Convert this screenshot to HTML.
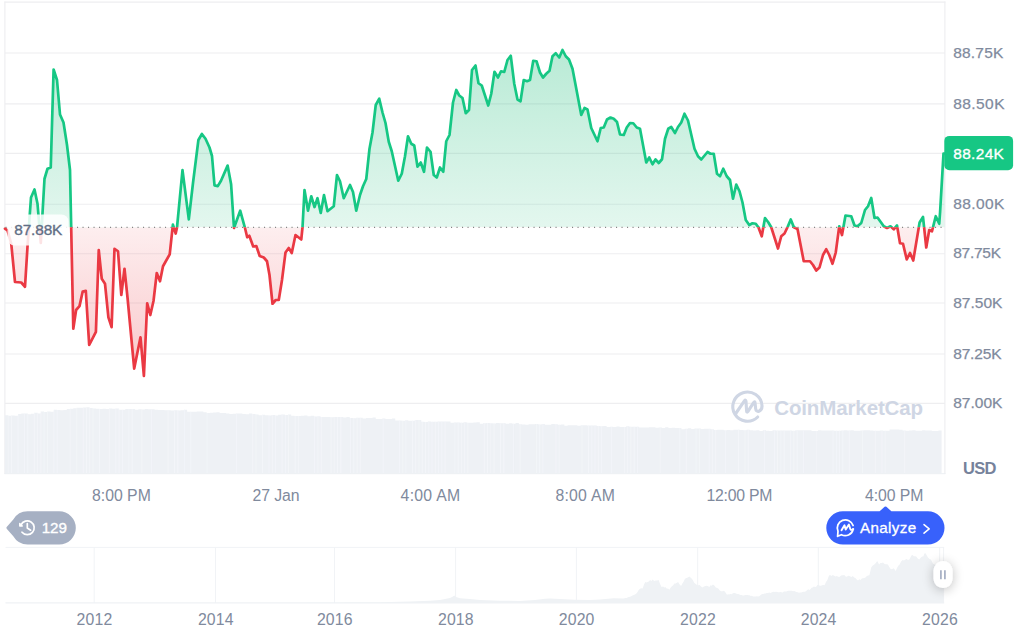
<!DOCTYPE html>
<html><head><meta charset="utf-8"><title>Chart</title>
<style>
html,body{margin:0;padding:0;background:#fff;}
body{width:1024px;height:642px;overflow:hidden;font-family:"Liberation Sans",sans-serif;}
svg{display:block;}
text{font-family:"Liberation Sans",sans-serif;}
</style></head><body>
<svg width="1024" height="642" viewBox="0 0 1024 642">
<defs>
<linearGradient id="gg" gradientUnits="userSpaceOnUse" x1="0" y1="0" x2="0" y2="227.3">
<stop offset="0" stop-color="#22be7c" stop-opacity="0.37"/><stop offset="1" stop-color="#22be7c" stop-opacity="0.125"/></linearGradient>
<linearGradient id="rg" gradientUnits="userSpaceOnUse" x1="0" y1="227.3" x2="0" y2="474">
<stop offset="0" stop-color="#ea3943" stop-opacity="0.085"/><stop offset="1" stop-color="#ea3943" stop-opacity="0.41"/></linearGradient>
<clipPath id="up"><rect x="0" y="0" width="1024" height="227.3"/></clipPath>
<clipPath id="dn"><rect x="0" y="227.3" width="1024" height="300"/></clipPath>
<filter id="sh" x="-100%" y="-50%" width="300%" height="200%"><feGaussianBlur in="SourceAlpha" stdDeviation="6"/><feOffset dy="2"/><feComponentTransfer><feFuncA type="linear" slope="0.26"/></feComponentTransfer><feMerge><feMergeNode/><feMergeNode in="SourceGraphic"/></feMerge></filter>
</defs>
<rect width="1024" height="642" fill="#fff"/>
<!-- grid -->
<g stroke="#eeeef0" stroke-width="1.15" fill="none"><line x1="5" x2="945" y1="53" y2="53"/><line x1="5" x2="945" y1="103.8" y2="103.8"/><line x1="5" x2="945" y1="153.3" y2="153.3"/><line x1="5" x2="945" y1="204.2" y2="204.2"/><line x1="5" x2="945" y1="253.7" y2="253.7"/><line x1="5" x2="945" y1="303.0" y2="303.0"/><line x1="5" x2="945" y1="354.0" y2="354.0"/><line x1="5" x2="945" y1="403.3" y2="403.3"/>
<line x1="4.4" x2="945.4" y1="2.1" y2="2.1"/>
<line x1="4.9" x2="4.9" y1="1.5" y2="474"/>
<line x1="944.9" x2="944.9" y1="1.5" y2="474"/>
</g>
<!-- volume -->
<path d="M5,473.6 L5.00,415.36 L8.25,415.36 L8.25,415.64 L11.50,415.64 L11.50,415.48 L14.76,415.48 L14.76,415.69 L18.01,415.69 L18.01,414.11 L21.26,414.11 L21.26,413.61 L24.51,413.61 L24.51,413.56 L27.76,413.56 L27.76,414.30 L31.02,414.30 L31.02,413.78 L34.27,413.78 L34.27,412.76 L37.52,412.76 L37.52,413.45 L40.77,413.45 L40.77,411.57 L44.02,411.57 L44.02,411.90 L47.28,411.90 L47.28,411.58 L50.53,411.58 L50.53,411.73 L53.78,411.73 L53.78,409.69 L57.03,409.69 L57.03,410.12 L60.29,410.12 L60.29,410.33 L63.54,410.33 L63.54,410.02 L66.79,410.02 L66.79,408.92 L70.04,408.92 L70.04,408.85 L73.29,408.85 L73.29,408.31 L76.55,408.31 L76.55,407.83 L79.80,407.83 L79.80,407.68 L83.05,407.68 L83.05,407.42 L86.30,407.42 L86.30,407.18 L89.55,407.18 L89.55,407.93 L92.81,407.93 L92.81,408.58 L96.06,408.58 L96.06,408.80 L99.31,408.80 L99.31,408.94 L102.56,408.94 L102.56,408.79 L105.81,408.79 L105.81,408.98 L109.07,408.98 L109.07,408.51 L112.32,408.51 L112.32,408.87 L115.57,408.87 L115.57,408.55 L118.82,408.55 L118.82,409.69 L122.07,409.69 L122.07,409.64 L125.33,409.64 L125.33,408.94 L128.58,408.94 L128.58,408.97 L131.83,408.97 L131.83,409.05 L135.08,409.05 L135.08,409.72 L138.34,409.72 L138.34,409.24 L141.59,409.24 L141.59,409.41 L144.84,409.41 L144.84,409.12 L148.09,409.12 L148.09,409.31 L151.34,409.31 L151.34,409.20 L154.60,409.20 L154.60,409.87 L157.85,409.87 L157.85,410.08 L161.10,410.08 L161.10,410.08 L164.35,410.08 L164.35,410.36 L167.60,410.36 L167.60,410.16 L170.86,410.16 L170.86,410.39 L174.11,410.39 L174.11,410.32 L177.36,410.32 L177.36,410.44 L180.61,410.44 L180.61,410.15 L183.86,410.15 L183.86,409.70 L187.12,409.70 L187.12,411.72 L190.37,411.72 L190.37,411.82 L193.62,411.82 L193.62,411.76 L196.87,411.76 L196.87,411.46 L200.12,411.46 L200.12,411.59 L203.38,411.59 L203.38,412.34 L206.63,412.34 L206.63,412.90 L209.88,412.90 L209.88,412.67 L213.13,412.67 L213.13,412.41 L216.39,412.41 L216.39,412.21 L219.64,412.21 L219.64,412.92 L222.89,412.92 L222.89,413.04 L226.14,413.04 L226.14,413.43 L229.39,413.43 L229.39,414.07 L232.65,414.07 L232.65,413.72 L235.90,413.72 L235.90,413.49 L239.15,413.49 L239.15,413.61 L242.40,413.61 L242.40,414.04 L245.65,414.04 L245.65,414.14 L248.91,414.14 L248.91,413.39 L252.16,413.39 L252.16,413.90 L255.41,413.90 L255.41,414.59 L258.66,414.59 L258.66,415.20 L261.91,415.20 L261.91,414.85 L265.17,414.85 L265.17,415.34 L268.42,415.34 L268.42,415.43 L271.67,415.43 L271.67,415.00 L274.92,415.00 L274.92,415.45 L278.18,415.45 L278.18,414.83 L281.43,414.83 L281.43,414.62 L284.68,414.62 L284.68,415.09 L287.93,415.09 L287.93,414.58 L291.18,414.58 L291.18,415.73 L294.44,415.73 L294.44,415.92 L297.69,415.92 L297.69,416.10 L300.94,416.10 L300.94,415.69 L304.19,415.69 L304.19,415.59 L307.44,415.59 L307.44,416.33 L310.70,416.33 L310.70,415.83 L313.95,415.83 L313.95,416.41 L317.20,416.41 L317.20,416.36 L320.45,416.36 L320.45,416.89 L323.70,416.89 L323.70,416.96 L326.96,416.96 L326.96,417.02 L330.21,417.02 L330.21,417.13 L333.46,417.13 L333.46,417.09 L336.71,417.09 L336.71,417.05 L339.96,417.05 L339.96,417.11 L343.22,417.11 L343.22,417.40 L346.47,417.40 L346.47,417.01 L349.72,417.01 L349.72,417.94 L352.97,417.94 L352.97,418.20 L356.23,418.20 L356.22,417.76 L359.48,417.76 L359.48,417.82 L362.73,417.82 L362.73,418.43 L365.98,418.43 L365.98,418.02 L369.23,418.02 L369.23,418.04 L372.49,418.04 L372.49,417.56 L375.74,417.56 L375.74,418.92 L378.99,418.92 L378.99,419.07 L382.24,419.07 L382.24,418.57 L385.49,418.57 L385.49,419.10 L388.75,419.10 L388.75,419.12 L392.00,419.12 L392.00,418.60 L395.25,418.60 L395.25,420.61 L398.50,420.61 L398.50,420.47 L401.75,420.47 L401.75,420.66 L405.01,420.66 L405.01,420.37 L408.26,420.37 L408.26,420.69 L411.51,420.69 L411.51,420.71 L414.76,420.71 L414.76,420.07 L418.01,420.07 L418.01,420.10 L421.27,420.10 L421.27,421.86 L424.52,421.86 L424.52,422.12 L427.77,422.12 L427.77,421.48 L431.02,421.48 L431.02,421.66 L434.28,421.66 L434.27,421.78 L437.53,421.78 L437.53,421.54 L440.78,421.54 L440.78,421.58 L444.03,421.58 L444.03,421.53 L447.28,421.53 L447.28,421.58 L450.54,421.58 L450.54,422.69 L453.79,422.69 L453.79,422.42 L457.04,422.42 L457.04,422.49 L460.29,422.49 L460.29,422.85 L463.54,422.85 L463.54,422.17 L466.80,422.17 L466.80,422.66 L470.05,422.66 L470.05,422.81 L473.30,422.81 L473.30,422.43 L476.55,422.43 L476.55,422.35 L479.80,422.35 L479.80,423.67 L483.06,423.67 L483.06,423.16 L486.31,423.16 L486.31,423.12 L489.56,423.12 L489.56,423.34 L492.81,423.34 L492.81,423.58 L496.06,423.58 L496.06,423.04 L499.32,423.04 L499.32,423.24 L502.57,423.24 L502.57,423.25 L505.82,423.25 L505.82,423.70 L509.07,423.70 L509.07,423.34 L512.32,423.34 L512.33,423.72 L515.58,423.72 L515.58,423.10 L518.83,423.10 L518.83,424.25 L522.08,424.25 L522.08,424.54 L525.33,424.54 L525.33,424.75 L528.59,424.75 L528.59,424.36 L531.84,424.36 L531.84,424.15 L535.09,424.15 L535.09,424.06 L538.34,424.06 L538.34,424.43 L541.59,424.43 L541.59,424.12 L544.85,424.12 L544.85,424.68 L548.10,424.68 L548.10,424.70 L551.35,424.70 L551.35,424.12 L554.60,424.12 L554.60,424.20 L557.85,424.20 L557.85,424.68 L561.11,424.68 L561.11,424.53 L564.36,424.53 L564.36,425.78 L567.61,425.78 L567.61,425.36 L570.86,425.36 L570.86,425.17 L574.11,425.17 L574.11,425.31 L577.37,425.31 L577.37,425.76 L580.62,425.76 L580.62,425.29 L583.87,425.29 L583.87,425.36 L587.12,425.36 L587.12,425.43 L590.38,425.43 L590.38,425.43 L593.63,425.43 L593.63,425.42 L596.88,425.42 L596.88,425.88 L600.13,425.88 L600.13,426.19 L603.38,426.19 L603.38,426.05 L606.64,426.05 L606.64,426.90 L609.89,426.90 L609.89,426.84 L613.14,426.84 L613.14,426.94 L616.39,426.94 L616.39,426.44 L619.64,426.44 L619.64,426.91 L622.90,426.91 L622.90,426.88 L626.15,426.88 L626.15,426.25 L629.40,426.25 L629.40,426.72 L632.65,426.72 L632.65,426.80 L635.90,426.80 L635.90,426.65 L639.16,426.65 L639.16,427.62 L642.41,427.62 L642.41,427.41 L645.66,427.41 L645.66,427.46 L648.91,427.46 L648.91,427.35 L652.16,427.35 L652.16,427.21 L655.42,427.21 L655.42,427.68 L658.67,427.68 L658.67,427.41 L661.92,427.41 L661.92,427.88 L665.17,427.88 L665.17,427.19 L668.42,427.19 L668.42,427.96 L671.68,427.96 L671.68,427.77 L674.93,427.77 L674.93,427.98 L678.18,427.98 L678.18,427.96 L681.43,427.96 L681.43,429.16 L684.69,429.16 L684.69,428.87 L687.94,428.87 L687.94,428.36 L691.19,428.36 L691.19,429.02 L694.44,429.02 L694.44,428.50 L697.69,428.50 L697.69,428.62 L700.95,428.62 L700.95,428.95 L704.20,428.95 L704.20,428.82 L707.45,428.82 L707.45,428.72 L710.70,428.72 L710.70,429.20 L713.95,429.20 L713.95,430.10 L717.21,430.10 L717.21,429.86 L720.46,429.86 L720.46,429.78 L723.71,429.78 L723.71,430.33 L726.96,430.33 L726.96,429.98 L730.21,429.98 L730.21,430.25 L733.47,430.25 L733.47,429.87 L736.72,429.87 L736.72,429.73 L739.97,429.73 L739.97,430.03 L743.22,430.03 L743.22,430.29 L746.47,430.29 L746.48,429.70 L749.73,429.70 L749.73,430.26 L752.98,430.26 L752.98,430.38 L756.23,430.38 L756.23,430.28 L759.48,430.28 L759.48,430.89 L762.74,430.89 L762.74,430.16 L765.99,430.16 L765.99,430.72 L769.24,430.72 L769.24,430.93 L772.49,430.93 L772.49,430.19 L775.74,430.19 L775.74,430.39 L779.00,430.39 L779.00,430.39 L782.25,430.39 L782.25,430.62 L785.50,430.62 L785.50,430.53 L788.75,430.53 L788.75,430.58 L792.00,430.58 L792.00,430.85 L795.26,430.85 L795.26,430.15 L798.51,430.15 L798.51,430.20 L801.76,430.20 L801.76,430.26 L805.01,430.26 L805.01,430.26 L808.26,430.26 L808.26,430.21 L811.52,430.21 L811.52,431.03 L814.77,431.03 L814.77,430.92 L818.02,430.92 L818.02,430.23 L821.27,430.23 L821.27,430.60 L824.52,430.60 L824.52,430.43 L827.78,430.43 L827.78,430.43 L831.03,430.43 L831.03,430.47 L834.28,430.47 L834.28,430.73 L837.53,430.73 L837.53,430.68 L840.79,430.68 L840.79,430.47 L844.04,430.47 L844.04,430.32 L847.29,430.32 L847.29,430.45 L850.54,430.45 L850.54,430.26 L853.79,430.26 L853.79,430.65 L857.05,430.65 L857.05,430.79 L860.30,430.79 L860.30,430.49 L863.55,430.49 L863.55,430.22 L866.80,430.22 L866.80,430.31 L870.05,430.31 L870.05,430.49 L873.31,430.49 L873.31,430.69 L876.56,430.69 L876.56,430.85 L879.81,430.85 L879.81,430.49 L883.06,430.49 L883.06,430.87 L886.31,430.87 L886.31,430.71 L889.57,430.71 L889.57,429.44 L892.82,429.44 L892.82,429.39 L896.07,429.39 L896.07,429.50 L899.32,429.50 L899.32,429.68 L902.57,429.68 L902.57,430.53 L905.83,430.53 L905.83,430.77 L909.08,430.77 L909.08,430.56 L912.33,430.56 L912.33,430.37 L915.58,430.37 L915.58,430.63 L918.84,430.63 L918.84,430.78 L922.09,430.78 L922.09,430.21 L925.34,430.21 L925.34,430.53 L928.59,430.53 L928.59,430.53 L931.84,430.53 L931.84,430.94 L935.10,430.94 L935.10,430.99 L938.35,430.99 L938.35,430.49 L941.60,430.49 L941.6,473.6 Z" fill="#eef1f5"/>
<clipPath id="vc"><path d="M5,473.6 L5.00,415.36 L8.25,415.36 L8.25,415.64 L11.50,415.64 L11.50,415.48 L14.76,415.48 L14.76,415.69 L18.01,415.69 L18.01,414.11 L21.26,414.11 L21.26,413.61 L24.51,413.61 L24.51,413.56 L27.76,413.56 L27.76,414.30 L31.02,414.30 L31.02,413.78 L34.27,413.78 L34.27,412.76 L37.52,412.76 L37.52,413.45 L40.77,413.45 L40.77,411.57 L44.02,411.57 L44.02,411.90 L47.28,411.90 L47.28,411.58 L50.53,411.58 L50.53,411.73 L53.78,411.73 L53.78,409.69 L57.03,409.69 L57.03,410.12 L60.29,410.12 L60.29,410.33 L63.54,410.33 L63.54,410.02 L66.79,410.02 L66.79,408.92 L70.04,408.92 L70.04,408.85 L73.29,408.85 L73.29,408.31 L76.55,408.31 L76.55,407.83 L79.80,407.83 L79.80,407.68 L83.05,407.68 L83.05,407.42 L86.30,407.42 L86.30,407.18 L89.55,407.18 L89.55,407.93 L92.81,407.93 L92.81,408.58 L96.06,408.58 L96.06,408.80 L99.31,408.80 L99.31,408.94 L102.56,408.94 L102.56,408.79 L105.81,408.79 L105.81,408.98 L109.07,408.98 L109.07,408.51 L112.32,408.51 L112.32,408.87 L115.57,408.87 L115.57,408.55 L118.82,408.55 L118.82,409.69 L122.07,409.69 L122.07,409.64 L125.33,409.64 L125.33,408.94 L128.58,408.94 L128.58,408.97 L131.83,408.97 L131.83,409.05 L135.08,409.05 L135.08,409.72 L138.34,409.72 L138.34,409.24 L141.59,409.24 L141.59,409.41 L144.84,409.41 L144.84,409.12 L148.09,409.12 L148.09,409.31 L151.34,409.31 L151.34,409.20 L154.60,409.20 L154.60,409.87 L157.85,409.87 L157.85,410.08 L161.10,410.08 L161.10,410.08 L164.35,410.08 L164.35,410.36 L167.60,410.36 L167.60,410.16 L170.86,410.16 L170.86,410.39 L174.11,410.39 L174.11,410.32 L177.36,410.32 L177.36,410.44 L180.61,410.44 L180.61,410.15 L183.86,410.15 L183.86,409.70 L187.12,409.70 L187.12,411.72 L190.37,411.72 L190.37,411.82 L193.62,411.82 L193.62,411.76 L196.87,411.76 L196.87,411.46 L200.12,411.46 L200.12,411.59 L203.38,411.59 L203.38,412.34 L206.63,412.34 L206.63,412.90 L209.88,412.90 L209.88,412.67 L213.13,412.67 L213.13,412.41 L216.39,412.41 L216.39,412.21 L219.64,412.21 L219.64,412.92 L222.89,412.92 L222.89,413.04 L226.14,413.04 L226.14,413.43 L229.39,413.43 L229.39,414.07 L232.65,414.07 L232.65,413.72 L235.90,413.72 L235.90,413.49 L239.15,413.49 L239.15,413.61 L242.40,413.61 L242.40,414.04 L245.65,414.04 L245.65,414.14 L248.91,414.14 L248.91,413.39 L252.16,413.39 L252.16,413.90 L255.41,413.90 L255.41,414.59 L258.66,414.59 L258.66,415.20 L261.91,415.20 L261.91,414.85 L265.17,414.85 L265.17,415.34 L268.42,415.34 L268.42,415.43 L271.67,415.43 L271.67,415.00 L274.92,415.00 L274.92,415.45 L278.18,415.45 L278.18,414.83 L281.43,414.83 L281.43,414.62 L284.68,414.62 L284.68,415.09 L287.93,415.09 L287.93,414.58 L291.18,414.58 L291.18,415.73 L294.44,415.73 L294.44,415.92 L297.69,415.92 L297.69,416.10 L300.94,416.10 L300.94,415.69 L304.19,415.69 L304.19,415.59 L307.44,415.59 L307.44,416.33 L310.70,416.33 L310.70,415.83 L313.95,415.83 L313.95,416.41 L317.20,416.41 L317.20,416.36 L320.45,416.36 L320.45,416.89 L323.70,416.89 L323.70,416.96 L326.96,416.96 L326.96,417.02 L330.21,417.02 L330.21,417.13 L333.46,417.13 L333.46,417.09 L336.71,417.09 L336.71,417.05 L339.96,417.05 L339.96,417.11 L343.22,417.11 L343.22,417.40 L346.47,417.40 L346.47,417.01 L349.72,417.01 L349.72,417.94 L352.97,417.94 L352.97,418.20 L356.23,418.20 L356.22,417.76 L359.48,417.76 L359.48,417.82 L362.73,417.82 L362.73,418.43 L365.98,418.43 L365.98,418.02 L369.23,418.02 L369.23,418.04 L372.49,418.04 L372.49,417.56 L375.74,417.56 L375.74,418.92 L378.99,418.92 L378.99,419.07 L382.24,419.07 L382.24,418.57 L385.49,418.57 L385.49,419.10 L388.75,419.10 L388.75,419.12 L392.00,419.12 L392.00,418.60 L395.25,418.60 L395.25,420.61 L398.50,420.61 L398.50,420.47 L401.75,420.47 L401.75,420.66 L405.01,420.66 L405.01,420.37 L408.26,420.37 L408.26,420.69 L411.51,420.69 L411.51,420.71 L414.76,420.71 L414.76,420.07 L418.01,420.07 L418.01,420.10 L421.27,420.10 L421.27,421.86 L424.52,421.86 L424.52,422.12 L427.77,422.12 L427.77,421.48 L431.02,421.48 L431.02,421.66 L434.28,421.66 L434.27,421.78 L437.53,421.78 L437.53,421.54 L440.78,421.54 L440.78,421.58 L444.03,421.58 L444.03,421.53 L447.28,421.53 L447.28,421.58 L450.54,421.58 L450.54,422.69 L453.79,422.69 L453.79,422.42 L457.04,422.42 L457.04,422.49 L460.29,422.49 L460.29,422.85 L463.54,422.85 L463.54,422.17 L466.80,422.17 L466.80,422.66 L470.05,422.66 L470.05,422.81 L473.30,422.81 L473.30,422.43 L476.55,422.43 L476.55,422.35 L479.80,422.35 L479.80,423.67 L483.06,423.67 L483.06,423.16 L486.31,423.16 L486.31,423.12 L489.56,423.12 L489.56,423.34 L492.81,423.34 L492.81,423.58 L496.06,423.58 L496.06,423.04 L499.32,423.04 L499.32,423.24 L502.57,423.24 L502.57,423.25 L505.82,423.25 L505.82,423.70 L509.07,423.70 L509.07,423.34 L512.32,423.34 L512.33,423.72 L515.58,423.72 L515.58,423.10 L518.83,423.10 L518.83,424.25 L522.08,424.25 L522.08,424.54 L525.33,424.54 L525.33,424.75 L528.59,424.75 L528.59,424.36 L531.84,424.36 L531.84,424.15 L535.09,424.15 L535.09,424.06 L538.34,424.06 L538.34,424.43 L541.59,424.43 L541.59,424.12 L544.85,424.12 L544.85,424.68 L548.10,424.68 L548.10,424.70 L551.35,424.70 L551.35,424.12 L554.60,424.12 L554.60,424.20 L557.85,424.20 L557.85,424.68 L561.11,424.68 L561.11,424.53 L564.36,424.53 L564.36,425.78 L567.61,425.78 L567.61,425.36 L570.86,425.36 L570.86,425.17 L574.11,425.17 L574.11,425.31 L577.37,425.31 L577.37,425.76 L580.62,425.76 L580.62,425.29 L583.87,425.29 L583.87,425.36 L587.12,425.36 L587.12,425.43 L590.38,425.43 L590.38,425.43 L593.63,425.43 L593.63,425.42 L596.88,425.42 L596.88,425.88 L600.13,425.88 L600.13,426.19 L603.38,426.19 L603.38,426.05 L606.64,426.05 L606.64,426.90 L609.89,426.90 L609.89,426.84 L613.14,426.84 L613.14,426.94 L616.39,426.94 L616.39,426.44 L619.64,426.44 L619.64,426.91 L622.90,426.91 L622.90,426.88 L626.15,426.88 L626.15,426.25 L629.40,426.25 L629.40,426.72 L632.65,426.72 L632.65,426.80 L635.90,426.80 L635.90,426.65 L639.16,426.65 L639.16,427.62 L642.41,427.62 L642.41,427.41 L645.66,427.41 L645.66,427.46 L648.91,427.46 L648.91,427.35 L652.16,427.35 L652.16,427.21 L655.42,427.21 L655.42,427.68 L658.67,427.68 L658.67,427.41 L661.92,427.41 L661.92,427.88 L665.17,427.88 L665.17,427.19 L668.42,427.19 L668.42,427.96 L671.68,427.96 L671.68,427.77 L674.93,427.77 L674.93,427.98 L678.18,427.98 L678.18,427.96 L681.43,427.96 L681.43,429.16 L684.69,429.16 L684.69,428.87 L687.94,428.87 L687.94,428.36 L691.19,428.36 L691.19,429.02 L694.44,429.02 L694.44,428.50 L697.69,428.50 L697.69,428.62 L700.95,428.62 L700.95,428.95 L704.20,428.95 L704.20,428.82 L707.45,428.82 L707.45,428.72 L710.70,428.72 L710.70,429.20 L713.95,429.20 L713.95,430.10 L717.21,430.10 L717.21,429.86 L720.46,429.86 L720.46,429.78 L723.71,429.78 L723.71,430.33 L726.96,430.33 L726.96,429.98 L730.21,429.98 L730.21,430.25 L733.47,430.25 L733.47,429.87 L736.72,429.87 L736.72,429.73 L739.97,429.73 L739.97,430.03 L743.22,430.03 L743.22,430.29 L746.47,430.29 L746.48,429.70 L749.73,429.70 L749.73,430.26 L752.98,430.26 L752.98,430.38 L756.23,430.38 L756.23,430.28 L759.48,430.28 L759.48,430.89 L762.74,430.89 L762.74,430.16 L765.99,430.16 L765.99,430.72 L769.24,430.72 L769.24,430.93 L772.49,430.93 L772.49,430.19 L775.74,430.19 L775.74,430.39 L779.00,430.39 L779.00,430.39 L782.25,430.39 L782.25,430.62 L785.50,430.62 L785.50,430.53 L788.75,430.53 L788.75,430.58 L792.00,430.58 L792.00,430.85 L795.26,430.85 L795.26,430.15 L798.51,430.15 L798.51,430.20 L801.76,430.20 L801.76,430.26 L805.01,430.26 L805.01,430.26 L808.26,430.26 L808.26,430.21 L811.52,430.21 L811.52,431.03 L814.77,431.03 L814.77,430.92 L818.02,430.92 L818.02,430.23 L821.27,430.23 L821.27,430.60 L824.52,430.60 L824.52,430.43 L827.78,430.43 L827.78,430.43 L831.03,430.43 L831.03,430.47 L834.28,430.47 L834.28,430.73 L837.53,430.73 L837.53,430.68 L840.79,430.68 L840.79,430.47 L844.04,430.47 L844.04,430.32 L847.29,430.32 L847.29,430.45 L850.54,430.45 L850.54,430.26 L853.79,430.26 L853.79,430.65 L857.05,430.65 L857.05,430.79 L860.30,430.79 L860.30,430.49 L863.55,430.49 L863.55,430.22 L866.80,430.22 L866.80,430.31 L870.05,430.31 L870.05,430.49 L873.31,430.49 L873.31,430.69 L876.56,430.69 L876.56,430.85 L879.81,430.85 L879.81,430.49 L883.06,430.49 L883.06,430.87 L886.31,430.87 L886.31,430.71 L889.57,430.71 L889.57,429.44 L892.82,429.44 L892.82,429.39 L896.07,429.39 L896.07,429.50 L899.32,429.50 L899.32,429.68 L902.57,429.68 L902.57,430.53 L905.83,430.53 L905.83,430.77 L909.08,430.77 L909.08,430.56 L912.33,430.56 L912.33,430.37 L915.58,430.37 L915.58,430.63 L918.84,430.63 L918.84,430.78 L922.09,430.78 L922.09,430.21 L925.34,430.21 L925.34,430.53 L928.59,430.53 L928.59,430.53 L931.84,430.53 L931.84,430.94 L935.10,430.94 L935.10,430.99 L938.35,430.99 L938.35,430.49 L941.60,430.49 L941.6,473.6 Z"/></clipPath><path d="M8.26,406 V473.6 M11.52,406 V473.6 M18.04,406 V473.6 M24.56,406 V473.6 M27.82,406 V473.6 M34.34,406 V473.6 M37.60,406 V473.6 M40.86,406 V473.6 M44.12,406 V473.6 M47.38,406 V473.6 M53.90,406 V473.6 M57.16,406 V473.6 M70.20,406 V473.6 M76.72,406 V473.6 M83.24,406 V473.6 M86.50,406 V473.6 M89.76,406 V473.6 M93.02,406 V473.6 M99.54,406 V473.6 M109.32,406 V473.6 M115.84,406 V473.6 M119.10,406 V473.6 M122.36,406 V473.6 M128.88,406 V473.6 M132.14,406 V473.6 M141.92,406 V473.6 M151.70,406 V473.6 M168.00,406 V473.6 M174.52,406 V473.6 M177.78,406 V473.6 M184.30,406 V473.6 M190.82,406 V473.6 M207.12,406 V473.6 M236.46,406 V473.6 M252.76,406 V473.6 M256.02,406 V473.6 M262.54,406 V473.6 M269.06,406 V473.6 M272.32,406 V473.6 M275.58,406 V473.6 M282.10,406 V473.6 M285.36,406 V473.6 M288.62,406 V473.6 M295.14,406 V473.6 M298.40,406 V473.6 M314.70,406 V473.6 M317.96,406 V473.6 M321.22,406 V473.6 M331.00,406 V473.6 M334.26,406 V473.6 M337.52,406 V473.6 M340.78,406 V473.6 M350.56,406 V473.6 M353.82,406 V473.6 M357.08,406 V473.6 M360.34,406 V473.6 M383.16,406 V473.6 M399.46,406 V473.6 M402.72,406 V473.6 M405.98,406 V473.6 M412.50,406 V473.6 M415.76,406 V473.6 M419.02,406 V473.6 M422.28,406 V473.6 M425.54,406 V473.6 M428.80,406 V473.6 M432.06,406 V473.6 M435.32,406 V473.6 M438.58,406 V473.6 M441.84,406 V473.6 M445.10,406 V473.6 M454.88,406 V473.6 M458.14,406 V473.6 M461.40,406 V473.6 M464.66,406 V473.6 M467.92,406 V473.6 M484.22,406 V473.6 M487.48,406 V473.6 M490.74,406 V473.6 M494.00,406 V473.6 M500.52,406 V473.6 M503.78,406 V473.6 M513.56,406 V473.6 M520.08,406 V473.6 M536.38,406 V473.6 M539.64,406 V473.6 M542.90,406 V473.6 M555.94,406 V473.6 M559.20,406 V473.6 M582.02,406 V473.6 M588.54,406 V473.6 M591.80,406 V473.6 M595.06,406 V473.6 M598.32,406 V473.6 M601.58,406 V473.6 M611.36,406 V473.6 M624.40,406 V473.6 M627.66,406 V473.6 M630.92,406 V473.6 M634.18,406 V473.6 M637.44,406 V473.6 M660.26,406 V473.6 M679.82,406 V473.6 M686.34,406 V473.6 M696.12,406 V473.6 M699.38,406 V473.6 M709.16,406 V473.6 M712.42,406 V473.6 M715.68,406 V473.6 M725.46,406 V473.6 M738.50,406 V473.6 M745.02,406 V473.6 M748.28,406 V473.6 M764.58,406 V473.6 M774.36,406 V473.6 M777.62,406 V473.6 M780.88,406 V473.6 M784.14,406 V473.6 M790.66,406 V473.6 M793.92,406 V473.6 M797.18,406 V473.6 M803.70,406 V473.6 M816.74,406 V473.6 M833.04,406 V473.6 M836.30,406 V473.6 M839.56,406 V473.6 M842.82,406 V473.6 M849.34,406 V473.6 M862.38,406 V473.6 M875.42,406 V473.6 M881.94,406 V473.6 M885.20,406 V473.6 M904.76,406 V473.6 M943.88,406 V473.6" stroke="#f5f7fa" stroke-width="0.7" fill="none" clip-path="url(#vc)"/>
<line x1="4.4" x2="945.4" y1="473.7" y2="473.7" stroke="#eceff3" stroke-width="1"/>
<!-- watermark -->
<g id="wm" fill="none" stroke="#cfd6e4" stroke-width="3.1" stroke-linecap="round" stroke-linejoin="round">
<path d="M735.4,414 L744.4,400.9 Q745.7,399.2 746,401.3 L746.6,411 Q746.8,413 748,411.3 L753.4,402.8 Q754.9,400.7 755.1,403.2 L755.6,408.4 Q756,412 759,411.2 Q762.3,410 762,405.7 A14.6,14.6 0 1 0 757.7,417"/>
</g>
<text x="774.2" y="415.2" font-size="20.5" font-weight="700" fill="#cfd6e4" textLength="148.9" lengthAdjust="spacing">CoinMarketCap</text>
<!-- price area -->
<path d="M5.00,228.60 L7.50,230.50 L11.25,243.75 L15.00,282.00 L21.25,282.50 L25.00,286.75 L27.80,242.00 L31.00,197.50 L34.50,189.50 L37.50,203.75 L40.80,243.00 L44.50,178.75 L47.50,168.75 L50.75,167.50 L53.60,69.50 L57.00,80.00 L60.00,114.50 L63.50,122.50 L67.00,145.00 L70.00,170.00 L73.30,328.75 L76.10,310.00 L79.50,306.10 L82.70,291.50 L85.80,290.80 L89.20,345.00 L95.90,331.90 L98.75,250.00 L101.75,278.75 L105.00,283.75 L108.40,317.30 L111.60,327.20 L114.50,248.75 L118.00,251.25 L121.30,295.00 L124.50,268.75 L127.50,297.50 L134.20,368.60 L140.50,337.30 L143.90,376.00 L147.20,303.30 L150.30,315.00 L153.50,301.00 L156.75,273.00 L160.00,281.25 L163.00,266.25 L169.70,254.30 L172.90,224.70 L175.70,233.50 L177.00,227.50 L182.50,170.20 L188.80,219.30 L193.00,183.00 L198.40,140.00 L201.90,134.00 L205.50,138.75 L209.50,147.50 L212.00,156.00 L214.50,185.40 L217.80,186.10 L221.00,180.70 L227.60,165.60 L231.10,184.25 L234.00,228.00 L240.20,210.70 L245.00,228.00 L247.20,237.30 L249.30,235.70 L253.20,246.50 L256.30,246.00 L259.70,256.00 L263.75,257.50 L267.00,261.25 L269.50,275.00 L272.50,303.75 L275.75,300.00 L278.75,300.00 L282.00,280.00 L285.50,252.50 L288.75,248.00 L291.75,253.00 L295.50,235.00 L301.25,239.50 L302.50,227.50 L304.50,190.00 L308.00,210.75 L311.25,196.25 L314.50,207.00 L317.50,198.25 L320.75,213.00 L324.00,195.00 L327.50,211.25 L333.75,206.25 L337.00,175.00 L340.00,181.25 L343.75,198.25 L350.00,185.00 L353.00,192.00 L356.25,210.75 L360.00,195.00 L363.00,186.25 L366.25,179.00 L369.50,148.75 L372.50,132.50 L375.75,105.00 L379.25,98.75 L382.50,112.50 L385.50,123.00 L388.75,141.75 L391.75,151.25 L398.25,180.75 L401.75,173.75 L405.00,156.25 L408.00,136.25 L411.25,143.75 L414.25,145.50 L417.50,166.75 L420.75,162.50 L424.00,171.75 L427.00,147.50 L430.50,151.75 L433.75,175.00 L436.75,177.50 L440.00,167.50 L443.25,171.75 L446.25,141.25 L449.50,135.00 L453.00,102.50 L456.25,90.00 L459.25,95.50 L462.50,98.00 L465.75,113.25 L469.00,110.00 L472.00,70.00 L475.50,65.50 L478.50,83.25 L481.75,85.50 L488.25,105.50 L491.25,93.75 L494.50,71.75 L498.00,77.50 L501.00,71.25 L504.25,72.00 L507.50,60.00 L510.75,55.75 L514.25,83.75 L517.50,99.50 L520.50,101.25 L523.75,80.00 L527.00,81.25 L530.00,80.00 L533.25,60.75 L536.50,61.25 L540.00,72.50 L543.00,77.50 L546.25,73.75 L549.50,70.75 L552.50,56.25 L555.75,53.25 L559.25,57.50 L562.50,50.00 L565.75,56.25 L569.00,59.50 L572.50,68.75 L581.25,115.00 L584.50,108.00 L587.50,109.50 L591.25,128.00 L597.50,141.25 L600.75,128.00 L603.75,127.50 L607.00,119.50 L610.50,117.50 L613.75,118.75 L617.00,122.00 L620.00,134.50 L623.75,135.00 L626.75,127.50 L630.00,123.00 L633.25,123.25 L636.75,127.50 L640.00,128.75 L646.25,162.50 L649.25,157.50 L652.50,164.25 L655.50,159.50 L658.75,163.00 L662.00,159.25 L665.00,138.75 L668.25,128.75 L671.25,127.00 L675.00,133.00 L678.00,127.00 L681.25,122.50 L684.50,113.75 L688.00,120.50 L694.50,148.75 L698.00,156.25 L701.25,159.50 L707.50,152.00 L710.50,153.75 L713.75,153.75 L717.00,173.75 L720.00,176.25 L723.25,168.75 L726.75,176.25 L730.00,180.00 L733.00,198.75 L736.25,184.50 L739.50,191.25 L742.50,202.50 L745.75,220.00 L749.25,225.00 L752.50,223.25 L755.75,223.75 L758.50,227.50 L761.75,236.25 L765.00,218.00 L768.25,222.25 L771.25,227.25 L778.00,248.50 L781.25,236.25 L784.50,233.50 L787.50,227.25 L790.75,219.40 L793.90,227.25 L797.50,229.00 L803.75,261.25 L810.00,261.25 L813.00,265.00 L816.25,270.50 L819.50,267.50 L823.00,255.00 L826.25,249.25 L829.25,255.00 L832.50,263.75 L835.75,252.50 L839.25,226.25 L842.00,235.00 L845.50,215.50 L851.25,216.25 L854.50,225.50 L857.50,226.25 L861.25,223.00 L865.00,210.00 L868.00,206.25 L871.25,198.00 L874.50,218.00 L877.50,217.50 L883.75,226.25 L887.00,228.00 L890.50,226.25 L893.75,229.25 L897.00,225.50 L900.00,243.25 L903.00,243.75 L906.75,259.50 L910.00,253.00 L913.25,260.50 L919.60,222.50 L923.00,217.00 L926.25,247.50 L929.25,230.00 L932.00,231.25 L935.75,216.25 L939.25,223.75 L940.10,212.00 L943.50,153.60 L944.40,153.60 L944.40,227.3 L5.00,227.3 Z" fill="url(#gg)" clip-path="url(#up)"/>
<path d="M5.00,228.60 L7.50,230.50 L11.25,243.75 L15.00,282.00 L21.25,282.50 L25.00,286.75 L27.80,242.00 L31.00,197.50 L34.50,189.50 L37.50,203.75 L40.80,243.00 L44.50,178.75 L47.50,168.75 L50.75,167.50 L53.60,69.50 L57.00,80.00 L60.00,114.50 L63.50,122.50 L67.00,145.00 L70.00,170.00 L73.30,328.75 L76.10,310.00 L79.50,306.10 L82.70,291.50 L85.80,290.80 L89.20,345.00 L95.90,331.90 L98.75,250.00 L101.75,278.75 L105.00,283.75 L108.40,317.30 L111.60,327.20 L114.50,248.75 L118.00,251.25 L121.30,295.00 L124.50,268.75 L127.50,297.50 L134.20,368.60 L140.50,337.30 L143.90,376.00 L147.20,303.30 L150.30,315.00 L153.50,301.00 L156.75,273.00 L160.00,281.25 L163.00,266.25 L169.70,254.30 L172.90,224.70 L175.70,233.50 L177.00,227.50 L182.50,170.20 L188.80,219.30 L193.00,183.00 L198.40,140.00 L201.90,134.00 L205.50,138.75 L209.50,147.50 L212.00,156.00 L214.50,185.40 L217.80,186.10 L221.00,180.70 L227.60,165.60 L231.10,184.25 L234.00,228.00 L240.20,210.70 L245.00,228.00 L247.20,237.30 L249.30,235.70 L253.20,246.50 L256.30,246.00 L259.70,256.00 L263.75,257.50 L267.00,261.25 L269.50,275.00 L272.50,303.75 L275.75,300.00 L278.75,300.00 L282.00,280.00 L285.50,252.50 L288.75,248.00 L291.75,253.00 L295.50,235.00 L301.25,239.50 L302.50,227.50 L304.50,190.00 L308.00,210.75 L311.25,196.25 L314.50,207.00 L317.50,198.25 L320.75,213.00 L324.00,195.00 L327.50,211.25 L333.75,206.25 L337.00,175.00 L340.00,181.25 L343.75,198.25 L350.00,185.00 L353.00,192.00 L356.25,210.75 L360.00,195.00 L363.00,186.25 L366.25,179.00 L369.50,148.75 L372.50,132.50 L375.75,105.00 L379.25,98.75 L382.50,112.50 L385.50,123.00 L388.75,141.75 L391.75,151.25 L398.25,180.75 L401.75,173.75 L405.00,156.25 L408.00,136.25 L411.25,143.75 L414.25,145.50 L417.50,166.75 L420.75,162.50 L424.00,171.75 L427.00,147.50 L430.50,151.75 L433.75,175.00 L436.75,177.50 L440.00,167.50 L443.25,171.75 L446.25,141.25 L449.50,135.00 L453.00,102.50 L456.25,90.00 L459.25,95.50 L462.50,98.00 L465.75,113.25 L469.00,110.00 L472.00,70.00 L475.50,65.50 L478.50,83.25 L481.75,85.50 L488.25,105.50 L491.25,93.75 L494.50,71.75 L498.00,77.50 L501.00,71.25 L504.25,72.00 L507.50,60.00 L510.75,55.75 L514.25,83.75 L517.50,99.50 L520.50,101.25 L523.75,80.00 L527.00,81.25 L530.00,80.00 L533.25,60.75 L536.50,61.25 L540.00,72.50 L543.00,77.50 L546.25,73.75 L549.50,70.75 L552.50,56.25 L555.75,53.25 L559.25,57.50 L562.50,50.00 L565.75,56.25 L569.00,59.50 L572.50,68.75 L581.25,115.00 L584.50,108.00 L587.50,109.50 L591.25,128.00 L597.50,141.25 L600.75,128.00 L603.75,127.50 L607.00,119.50 L610.50,117.50 L613.75,118.75 L617.00,122.00 L620.00,134.50 L623.75,135.00 L626.75,127.50 L630.00,123.00 L633.25,123.25 L636.75,127.50 L640.00,128.75 L646.25,162.50 L649.25,157.50 L652.50,164.25 L655.50,159.50 L658.75,163.00 L662.00,159.25 L665.00,138.75 L668.25,128.75 L671.25,127.00 L675.00,133.00 L678.00,127.00 L681.25,122.50 L684.50,113.75 L688.00,120.50 L694.50,148.75 L698.00,156.25 L701.25,159.50 L707.50,152.00 L710.50,153.75 L713.75,153.75 L717.00,173.75 L720.00,176.25 L723.25,168.75 L726.75,176.25 L730.00,180.00 L733.00,198.75 L736.25,184.50 L739.50,191.25 L742.50,202.50 L745.75,220.00 L749.25,225.00 L752.50,223.25 L755.75,223.75 L758.50,227.50 L761.75,236.25 L765.00,218.00 L768.25,222.25 L771.25,227.25 L778.00,248.50 L781.25,236.25 L784.50,233.50 L787.50,227.25 L790.75,219.40 L793.90,227.25 L797.50,229.00 L803.75,261.25 L810.00,261.25 L813.00,265.00 L816.25,270.50 L819.50,267.50 L823.00,255.00 L826.25,249.25 L829.25,255.00 L832.50,263.75 L835.75,252.50 L839.25,226.25 L842.00,235.00 L845.50,215.50 L851.25,216.25 L854.50,225.50 L857.50,226.25 L861.25,223.00 L865.00,210.00 L868.00,206.25 L871.25,198.00 L874.50,218.00 L877.50,217.50 L883.75,226.25 L887.00,228.00 L890.50,226.25 L893.75,229.25 L897.00,225.50 L900.00,243.25 L903.00,243.75 L906.75,259.50 L910.00,253.00 L913.25,260.50 L919.60,222.50 L923.00,217.00 L926.25,247.50 L929.25,230.00 L932.00,231.25 L935.75,216.25 L939.25,223.75 L940.10,212.00 L943.50,153.60 L944.40,153.60 L944.40,227.3 L5.00,227.3 Z" fill="url(#rg)" clip-path="url(#dn)"/>
<!-- baseline dotted -->
<line x1="5.5" x2="944" y1="227.4" y2="227.4" stroke="#858585" stroke-width="1.1" stroke-dasharray="1.1 4.4" stroke-dashoffset="0"/>
<path d="M5.00,228.60 L7.50,230.50 L11.25,243.75 L15.00,282.00 L21.25,282.50 L25.00,286.75 L27.80,242.00 L31.00,197.50 L34.50,189.50 L37.50,203.75 L40.80,243.00 L44.50,178.75 L47.50,168.75 L50.75,167.50 L53.60,69.50 L57.00,80.00 L60.00,114.50 L63.50,122.50 L67.00,145.00 L70.00,170.00 L73.30,328.75 L76.10,310.00 L79.50,306.10 L82.70,291.50 L85.80,290.80 L89.20,345.00 L95.90,331.90 L98.75,250.00 L101.75,278.75 L105.00,283.75 L108.40,317.30 L111.60,327.20 L114.50,248.75 L118.00,251.25 L121.30,295.00 L124.50,268.75 L127.50,297.50 L134.20,368.60 L140.50,337.30 L143.90,376.00 L147.20,303.30 L150.30,315.00 L153.50,301.00 L156.75,273.00 L160.00,281.25 L163.00,266.25 L169.70,254.30 L172.90,224.70 L175.70,233.50 L177.00,227.50 L182.50,170.20 L188.80,219.30 L193.00,183.00 L198.40,140.00 L201.90,134.00 L205.50,138.75 L209.50,147.50 L212.00,156.00 L214.50,185.40 L217.80,186.10 L221.00,180.70 L227.60,165.60 L231.10,184.25 L234.00,228.00 L240.20,210.70 L245.00,228.00 L247.20,237.30 L249.30,235.70 L253.20,246.50 L256.30,246.00 L259.70,256.00 L263.75,257.50 L267.00,261.25 L269.50,275.00 L272.50,303.75 L275.75,300.00 L278.75,300.00 L282.00,280.00 L285.50,252.50 L288.75,248.00 L291.75,253.00 L295.50,235.00 L301.25,239.50 L302.50,227.50 L304.50,190.00 L308.00,210.75 L311.25,196.25 L314.50,207.00 L317.50,198.25 L320.75,213.00 L324.00,195.00 L327.50,211.25 L333.75,206.25 L337.00,175.00 L340.00,181.25 L343.75,198.25 L350.00,185.00 L353.00,192.00 L356.25,210.75 L360.00,195.00 L363.00,186.25 L366.25,179.00 L369.50,148.75 L372.50,132.50 L375.75,105.00 L379.25,98.75 L382.50,112.50 L385.50,123.00 L388.75,141.75 L391.75,151.25 L398.25,180.75 L401.75,173.75 L405.00,156.25 L408.00,136.25 L411.25,143.75 L414.25,145.50 L417.50,166.75 L420.75,162.50 L424.00,171.75 L427.00,147.50 L430.50,151.75 L433.75,175.00 L436.75,177.50 L440.00,167.50 L443.25,171.75 L446.25,141.25 L449.50,135.00 L453.00,102.50 L456.25,90.00 L459.25,95.50 L462.50,98.00 L465.75,113.25 L469.00,110.00 L472.00,70.00 L475.50,65.50 L478.50,83.25 L481.75,85.50 L488.25,105.50 L491.25,93.75 L494.50,71.75 L498.00,77.50 L501.00,71.25 L504.25,72.00 L507.50,60.00 L510.75,55.75 L514.25,83.75 L517.50,99.50 L520.50,101.25 L523.75,80.00 L527.00,81.25 L530.00,80.00 L533.25,60.75 L536.50,61.25 L540.00,72.50 L543.00,77.50 L546.25,73.75 L549.50,70.75 L552.50,56.25 L555.75,53.25 L559.25,57.50 L562.50,50.00 L565.75,56.25 L569.00,59.50 L572.50,68.75 L581.25,115.00 L584.50,108.00 L587.50,109.50 L591.25,128.00 L597.50,141.25 L600.75,128.00 L603.75,127.50 L607.00,119.50 L610.50,117.50 L613.75,118.75 L617.00,122.00 L620.00,134.50 L623.75,135.00 L626.75,127.50 L630.00,123.00 L633.25,123.25 L636.75,127.50 L640.00,128.75 L646.25,162.50 L649.25,157.50 L652.50,164.25 L655.50,159.50 L658.75,163.00 L662.00,159.25 L665.00,138.75 L668.25,128.75 L671.25,127.00 L675.00,133.00 L678.00,127.00 L681.25,122.50 L684.50,113.75 L688.00,120.50 L694.50,148.75 L698.00,156.25 L701.25,159.50 L707.50,152.00 L710.50,153.75 L713.75,153.75 L717.00,173.75 L720.00,176.25 L723.25,168.75 L726.75,176.25 L730.00,180.00 L733.00,198.75 L736.25,184.50 L739.50,191.25 L742.50,202.50 L745.75,220.00 L749.25,225.00 L752.50,223.25 L755.75,223.75 L758.50,227.50 L761.75,236.25 L765.00,218.00 L768.25,222.25 L771.25,227.25 L778.00,248.50 L781.25,236.25 L784.50,233.50 L787.50,227.25 L790.75,219.40 L793.90,227.25 L797.50,229.00 L803.75,261.25 L810.00,261.25 L813.00,265.00 L816.25,270.50 L819.50,267.50 L823.00,255.00 L826.25,249.25 L829.25,255.00 L832.50,263.75 L835.75,252.50 L839.25,226.25 L842.00,235.00 L845.50,215.50 L851.25,216.25 L854.50,225.50 L857.50,226.25 L861.25,223.00 L865.00,210.00 L868.00,206.25 L871.25,198.00 L874.50,218.00 L877.50,217.50 L883.75,226.25 L887.00,228.00 L890.50,226.25 L893.75,229.25 L897.00,225.50 L900.00,243.25 L903.00,243.75 L906.75,259.50 L910.00,253.00 L913.25,260.50 L919.60,222.50 L923.00,217.00 L926.25,247.50 L929.25,230.00 L932.00,231.25 L935.75,216.25 L939.25,223.75 L940.10,212.00 L943.50,153.60 L944.40,153.60" fill="none" stroke="#16c784" stroke-width="2.7" stroke-linejoin="round" stroke-linecap="round" clip-path="url(#up)"/>
<path d="M5.00,228.60 L7.50,230.50 L11.25,243.75 L15.00,282.00 L21.25,282.50 L25.00,286.75 L27.80,242.00 L31.00,197.50 L34.50,189.50 L37.50,203.75 L40.80,243.00 L44.50,178.75 L47.50,168.75 L50.75,167.50 L53.60,69.50 L57.00,80.00 L60.00,114.50 L63.50,122.50 L67.00,145.00 L70.00,170.00 L73.30,328.75 L76.10,310.00 L79.50,306.10 L82.70,291.50 L85.80,290.80 L89.20,345.00 L95.90,331.90 L98.75,250.00 L101.75,278.75 L105.00,283.75 L108.40,317.30 L111.60,327.20 L114.50,248.75 L118.00,251.25 L121.30,295.00 L124.50,268.75 L127.50,297.50 L134.20,368.60 L140.50,337.30 L143.90,376.00 L147.20,303.30 L150.30,315.00 L153.50,301.00 L156.75,273.00 L160.00,281.25 L163.00,266.25 L169.70,254.30 L172.90,224.70 L175.70,233.50 L177.00,227.50 L182.50,170.20 L188.80,219.30 L193.00,183.00 L198.40,140.00 L201.90,134.00 L205.50,138.75 L209.50,147.50 L212.00,156.00 L214.50,185.40 L217.80,186.10 L221.00,180.70 L227.60,165.60 L231.10,184.25 L234.00,228.00 L240.20,210.70 L245.00,228.00 L247.20,237.30 L249.30,235.70 L253.20,246.50 L256.30,246.00 L259.70,256.00 L263.75,257.50 L267.00,261.25 L269.50,275.00 L272.50,303.75 L275.75,300.00 L278.75,300.00 L282.00,280.00 L285.50,252.50 L288.75,248.00 L291.75,253.00 L295.50,235.00 L301.25,239.50 L302.50,227.50 L304.50,190.00 L308.00,210.75 L311.25,196.25 L314.50,207.00 L317.50,198.25 L320.75,213.00 L324.00,195.00 L327.50,211.25 L333.75,206.25 L337.00,175.00 L340.00,181.25 L343.75,198.25 L350.00,185.00 L353.00,192.00 L356.25,210.75 L360.00,195.00 L363.00,186.25 L366.25,179.00 L369.50,148.75 L372.50,132.50 L375.75,105.00 L379.25,98.75 L382.50,112.50 L385.50,123.00 L388.75,141.75 L391.75,151.25 L398.25,180.75 L401.75,173.75 L405.00,156.25 L408.00,136.25 L411.25,143.75 L414.25,145.50 L417.50,166.75 L420.75,162.50 L424.00,171.75 L427.00,147.50 L430.50,151.75 L433.75,175.00 L436.75,177.50 L440.00,167.50 L443.25,171.75 L446.25,141.25 L449.50,135.00 L453.00,102.50 L456.25,90.00 L459.25,95.50 L462.50,98.00 L465.75,113.25 L469.00,110.00 L472.00,70.00 L475.50,65.50 L478.50,83.25 L481.75,85.50 L488.25,105.50 L491.25,93.75 L494.50,71.75 L498.00,77.50 L501.00,71.25 L504.25,72.00 L507.50,60.00 L510.75,55.75 L514.25,83.75 L517.50,99.50 L520.50,101.25 L523.75,80.00 L527.00,81.25 L530.00,80.00 L533.25,60.75 L536.50,61.25 L540.00,72.50 L543.00,77.50 L546.25,73.75 L549.50,70.75 L552.50,56.25 L555.75,53.25 L559.25,57.50 L562.50,50.00 L565.75,56.25 L569.00,59.50 L572.50,68.75 L581.25,115.00 L584.50,108.00 L587.50,109.50 L591.25,128.00 L597.50,141.25 L600.75,128.00 L603.75,127.50 L607.00,119.50 L610.50,117.50 L613.75,118.75 L617.00,122.00 L620.00,134.50 L623.75,135.00 L626.75,127.50 L630.00,123.00 L633.25,123.25 L636.75,127.50 L640.00,128.75 L646.25,162.50 L649.25,157.50 L652.50,164.25 L655.50,159.50 L658.75,163.00 L662.00,159.25 L665.00,138.75 L668.25,128.75 L671.25,127.00 L675.00,133.00 L678.00,127.00 L681.25,122.50 L684.50,113.75 L688.00,120.50 L694.50,148.75 L698.00,156.25 L701.25,159.50 L707.50,152.00 L710.50,153.75 L713.75,153.75 L717.00,173.75 L720.00,176.25 L723.25,168.75 L726.75,176.25 L730.00,180.00 L733.00,198.75 L736.25,184.50 L739.50,191.25 L742.50,202.50 L745.75,220.00 L749.25,225.00 L752.50,223.25 L755.75,223.75 L758.50,227.50 L761.75,236.25 L765.00,218.00 L768.25,222.25 L771.25,227.25 L778.00,248.50 L781.25,236.25 L784.50,233.50 L787.50,227.25 L790.75,219.40 L793.90,227.25 L797.50,229.00 L803.75,261.25 L810.00,261.25 L813.00,265.00 L816.25,270.50 L819.50,267.50 L823.00,255.00 L826.25,249.25 L829.25,255.00 L832.50,263.75 L835.75,252.50 L839.25,226.25 L842.00,235.00 L845.50,215.50 L851.25,216.25 L854.50,225.50 L857.50,226.25 L861.25,223.00 L865.00,210.00 L868.00,206.25 L871.25,198.00 L874.50,218.00 L877.50,217.50 L883.75,226.25 L887.00,228.00 L890.50,226.25 L893.75,229.25 L897.00,225.50 L900.00,243.25 L903.00,243.75 L906.75,259.50 L910.00,253.00 L913.25,260.50 L919.60,222.50 L923.00,217.00 L926.25,247.50 L929.25,230.00 L932.00,231.25 L935.75,216.25 L939.25,223.75 L940.10,212.00 L943.50,153.60 L944.40,153.60" fill="none" stroke="#ea3943" stroke-width="2.7" stroke-linejoin="round" stroke-linecap="round" clip-path="url(#dn)"/>
<!-- baseline label -->
<rect x="7.5" y="214.5" width="61" height="31" rx="7" fill="#fff" fill-opacity="0.86"/>
<text x="14.3" y="234.6" font-size="15.4" fill="#616e85" stroke="#616e85" stroke-width="0.35" textLength="48" lengthAdjust="spacing">87.88K</text>
<!-- y labels -->
<g font-size="15.5" fill="#808a9d" stroke="#808a9d" stroke-width="0.25"><text x="953.2" y="57.9" textLength="50.1" lengthAdjust="spacing">88.75K</text><text x="953.2" y="108.5" textLength="51.3" lengthAdjust="spacing">88.50K</text><text x="953.2" y="208.7" textLength="51.2" lengthAdjust="spacing">88.00K</text><text x="953.2" y="258.0" textLength="47.8" lengthAdjust="spacing">87.75K</text><text x="953.2" y="308.0" textLength="49.2" lengthAdjust="spacing">87.50K</text><text x="953.2" y="358.7" textLength="48.3" lengthAdjust="spacing">87.25K</text><text x="953.2" y="408.1" textLength="49.2" lengthAdjust="spacing">87.00K</text></g>
<!-- current price -->
<rect x="944.3" y="135.9" width="68.8" height="34.3" rx="5" fill="#16c784"/>
<text x="953.3" y="159.0" font-size="15.4" fill="#fff" stroke="#fff" stroke-width="0.35" textLength="50.5" lengthAdjust="spacing">88.24K</text>
<text x="962.9" y="474.0" font-size="16.5" font-weight="700" fill="#76829b" textLength="33.5" lengthAdjust="spacing">USD</text>
<!-- x labels -->
<g font-size="15.8" fill="#808a9d"><text x="92.0" y="500.7" textLength="58.8" lengthAdjust="spacing">8:00 PM</text><text x="252.6" y="500.7" textLength="46.9" lengthAdjust="spacing">27 Jan</text><text x="400.6" y="500.7" textLength="59.5" lengthAdjust="spacing">4:00 AM</text><text x="555.4" y="500.7" textLength="59.5" lengthAdjust="spacing">8:00 AM</text><text x="706.5" y="500.7" textLength="65.9" lengthAdjust="spacing">12:00 PM</text><text x="865.0" y="500.7" textLength="58.5" lengthAdjust="spacing">4:00 PM</text></g>
<!-- badge -->
<path d="M27.6,511.3 H59.2 A16.6,16.6 0 0 1 59.2,544.5 H27.6 A16.6,16.6 0 0 1 13.3,536.3 L6.7,528.7 Q6,527.9 6.7,527.1 L13.3,519.5 A16.6,16.6 0 0 1 27.6,511.3 Z" fill="#a6b0c3"/>
<g fill="none" stroke="#fff" stroke-width="1.7" stroke-linecap="round" stroke-linejoin="round">
<path d="M21.0,524.9 A6.9,6.9 0 1 1 22.0,532.2"/>
<path d="M19.7,523.4 V526 H22.3 Z" stroke-width="1.3" fill="#fff"/>
<path d="M27.3,523.6 V528 L30.6,530.2"/>
</g>
<text x="41.8" y="533.3" font-size="15.2" fill="#fff" stroke="#fff" stroke-width="0.35" textLength="25.1" lengthAdjust="spacing">129</text>
<!-- analyze -->
<path d="M842.9,511.3 H879.6 L884.6,506.8 Q885.5,506 886.4,506.8 L891.4,511.3 H927.9 A16.6,16.6 0 0 1 927.9,544.5 H842.9 A16.6,16.6 0 0 1 842.9,511.3 Z" fill="#3861fb"/>
<g fill="none" stroke="#fff" stroke-width="1.5" stroke-linecap="round" stroke-linejoin="round">
<path stroke-width="1.75" d="M853.1,529.5 A8.1,8.1 0 0 1 841.4,534.7 L837.6,536.3 L838.0,531.3 A8.1,8.1 0 1 1 853.1,525.5"/>
<path stroke-width="1.9" d="M841.5,530.3 L844.5,525.3 L845.7,529.6 L848.9,524.5 L850.2,528.7 Q850.7,530.4 852.2,529.6 L853.3,528.9"/>
</g>
<text x="860" y="533.2" font-size="15.2" fill="#fff" stroke="#fff" stroke-width="0.3" textLength="56.2" lengthAdjust="spacing">Analyze</text>
<path d="M924.0,524.6 L929.2,528.9 L924.0,533.2" fill="none" stroke="#fff" stroke-width="1.5" stroke-linecap="round" stroke-linejoin="round"/>
<!-- mini chart -->
<g stroke="#f1f3f6" stroke-width="1" fill="none">
<line x1="5.5" x2="944.2" y1="547.4" y2="547.4"/><line x1="94.2" x2="94.2" y1="547.4" y2="603"/><line x1="215.5" x2="215.5" y1="547.4" y2="603"/><line x1="334.5" x2="334.5" y1="547.4" y2="603"/><line x1="455.6" x2="455.6" y1="547.4" y2="603"/><line x1="576.4" x2="576.4" y1="547.4" y2="603"/><line x1="697.7" x2="697.7" y1="547.4" y2="603"/><line x1="818.3" x2="818.3" y1="547.4" y2="603"/><line x1="939.7" x2="939.7" y1="547.4" y2="603"/><line x1="943.6" x2="943.6" y1="547.4" y2="603"/>
</g>
<path d="M5.5,603 L5.5,602.6 L300.0,602.5 L380.0,602.2 L410.0,601.6 L430.0,600.8 L440.0,599.9 L445.0,599.1 L450.0,598.1 L453.0,596.6 L454.2,595.5 L456.0,597.1 L460.0,598.3 L470.0,599.1 L480.0,599.9 L500.0,600.7 L520.0,601.0 L535.0,600.0 L545.0,598.8 L550.0,598.4 L560.0,599.0 L575.0,599.8 L590.0,600.0 L600.0,599.6 L613.7,598.2 L623.4,598.6 L624.5,598.2 L625.6,598.0 L626.8,597.9 L627.9,597.2 L629.0,596.9 L630.1,596.7 L631.2,596.2 L632.5,595.4 L633.7,595.0 L634.9,594.4 L636.1,593.7 L637.4,592.3 L638.7,590.1 L640.0,588.8 L641.3,588.2 L642.6,588.4 L644.0,584.5 L645.3,582.0 L646.5,582.4 L647.6,581.9 L648.8,581.4 L650.1,580.0 L651.4,581.1 L652.7,579.6 L654.2,580.9 L655.7,580.6 L657.2,580.6 L658.6,580.0 L660.0,583.7 L661.5,586.9 L663.0,586.6 L664.5,587.5 L665.7,587.2 L666.9,588.7 L668.1,588.4 L669.3,589.8 L670.6,587.7 L671.9,586.3 L673.2,585.3 L674.4,583.6 L675.7,583.6 L676.9,582.7 L678.1,582.0 L679.6,584.6 L681.1,585.9 L682.4,583.5 L683.7,581.4 L685.0,578.7 L686.4,578.0 L687.9,577.5 L689.3,576.5 L690.5,577.6 L691.6,578.4 L692.8,580.0 L694.2,582.8 L695.7,583.9 L697.0,585.1 L698.3,585.2 L699.6,584.9 L701.0,586.6 L702.5,587.5 L704.0,586.4 L705.5,585.9 L706.8,585.7 L708.1,586.2 L709.4,586.9 L710.6,585.3 L711.7,585.8 L712.9,584.5 L714.3,585.5 L715.8,587.4 L717.2,587.9 L718.5,588.8 L719.8,590.5 L721.1,591.2 L722.5,591.3 L724.0,590.8 L725.5,592.4 L727.0,594.7 L728.1,594.2 L729.2,594.6 L730.3,594.0 L731.5,594.2 L732.6,593.5 L733.7,593.0 L734.8,593.1 L736.0,593.6 L737.1,594.1 L738.3,594.1 L739.4,594.4 L740.6,595.1 L741.7,595.0 L742.8,595.5 L743.9,595.4 L745.1,594.9 L746.2,595.0 L747.3,595.0 L748.4,595.3 L749.6,595.2 L750.8,596.1 L751.9,595.8 L753.1,596.4 L754.3,596.6 L755.5,596.5 L756.8,596.2 L758.0,596.5 L759.2,596.2 L760.7,594.9 L762.1,594.1 L763.3,594.0 L764.5,593.4 L765.6,593.4 L766.8,593.1 L768.0,593.1 L769.2,592.6 L770.3,592.9 L771.5,592.5 L772.6,591.9 L773.8,591.8 L774.9,592.1 L776.0,591.7 L777.1,591.9 L778.3,592.3 L779.4,592.3 L780.5,591.9 L781.6,592.3 L782.8,592.4 L783.9,591.6 L785.0,591.4 L786.2,591.5 L787.4,590.9 L788.5,590.8 L789.6,590.7 L790.8,590.7 L791.9,590.8 L793.0,591.3 L794.2,591.1 L795.3,591.4 L796.5,591.9 L797.8,592.2 L799.0,592.7 L800.1,592.4 L801.3,592.6 L802.5,591.9 L803.6,591.8 L804.8,591.7 L805.9,591.2 L807.0,590.3 L808.2,589.3 L809.3,590.1 L810.4,589.3 L811.6,587.7 L812.7,587.5 L813.9,586.4 L815.1,586.9 L816.2,586.7 L817.4,584.9 L818.6,584.9 L819.8,585.8 L821.0,585.7 L822.1,585.3 L823.3,585.1 L824.5,585.3 L826.0,581.9 L827.4,580.0 L828.6,576.6 L829.9,574.8 L831.3,575.9 L832.8,574.9 L834.2,575.7 L835.5,576.4 L836.8,575.9 L838.1,576.7 L839.3,576.9 L840.5,576.1 L841.8,575.2 L843.0,575.2 L844.3,575.1 L845.6,576.6 L846.9,576.7 L848.1,575.8 L849.3,576.0 L850.4,576.4 L851.6,576.9 L852.8,576.1 L854.1,577.5 L855.4,578.0 L856.7,579.6 L858.0,580.5 L859.3,579.3 L860.6,580.0 L861.8,578.5 L863.0,578.3 L864.3,578.0 L865.5,577.5 L866.8,575.9 L868.1,575.4 L869.4,575.2 L871.3,567.3 L872.8,565.6 L874.3,564.4 L875.8,562.9 L877.2,561.1 L879.1,564.4 L880.4,563.1 L881.7,562.9 L883.0,562.5 L884.2,563.7 L885.5,564.3 L886.7,564.2 L887.9,564.4 L889.4,567.2 L890.9,569.3 L892.3,569.0 L893.8,568.3 L895.7,570.9 L897.0,568.1 L898.3,565.7 L899.6,564.4 L901.1,561.4 L902.6,560.1 L903.9,560.5 L905.2,559.8 L906.5,559.1 L908.0,560.1 L909.4,559.5 L911.4,555.6 L912.6,555.0 L913.8,556.3 L915.0,556.3 L916.2,556.6 L917.7,558.5 L919.2,559.5 L920.7,557.7 L922.1,556.6 L923.3,556.4 L924.4,553.6 L925.6,553.3 L926.8,555.5 L928.0,557.6 L929.5,559.0 L930.9,559.5 L932.9,563.4 L934.3,564.6 L935.8,564.4 L936.9,565.0 L938.1,565.1 L939.2,565.4 L940.4,565.7 L941.5,564.8 L942.7,565.6 L943.8,565.4 L943.8,603 Z" fill="#eff2f5"/>
<line x1="5.5" x2="944.2" y1="603" y2="603" stroke="#eff2f5" stroke-width="1"/>
<g font-size="15.8" fill="#808a9d"><text x="76.6" y="625.4" textLength="35.6" lengthAdjust="spacing">2012</text><text x="197.9" y="625.4" textLength="35.6" lengthAdjust="spacing">2014</text><text x="316.9" y="625.4" textLength="35.6" lengthAdjust="spacing">2016</text><text x="438.0" y="625.4" textLength="35.6" lengthAdjust="spacing">2018</text><text x="558.8" y="625.4" textLength="35.6" lengthAdjust="spacing">2020</text><text x="680.1" y="625.4" textLength="35.6" lengthAdjust="spacing">2022</text><text x="800.7" y="625.4" textLength="35.6" lengthAdjust="spacing">2024</text><text x="922.1" y="625.4" textLength="35.6" lengthAdjust="spacing">2026</text></g>
<!-- handle -->
<rect x="933.5" y="561.1" width="19" height="26.9" rx="9.5" fill="#fff" filter="url(#sh)"/>
<g stroke="#a9b2c6" stroke-width="1.8"><line x1="940.9" x2="940.9" y1="570.2" y2="579.2"/><line x1="944.9" x2="944.9" y1="570.2" y2="579.2"/></g>
</svg>
</body></html>
